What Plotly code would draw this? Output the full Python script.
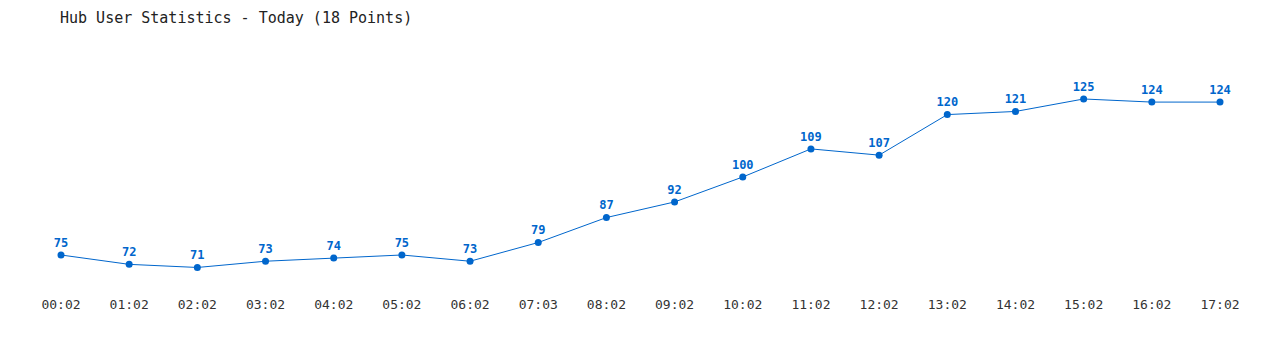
import plotly.graph_objects as go

times = ["00:02", "01:02", "02:02", "03:02", "04:02", "05:02", "06:02", "07:03", "08:02",
         "09:02", "10:02", "11:02", "12:02", "13:02", "14:02", "15:02", "16:02", "17:02"]
users = [75, 72, 71, 73, 74, 75, 73, 79, 87, 92, 100, 109, 107, 120, 121, 125, 124, 124]
title_text = "Hub User Statistics - Today (18 Points)"

idx = list(range(len(times)))
blue = "#0066cc"
font = "DejaVu Sans Mono, Liberation Mono, monospace"

fig = go.Figure(go.Scatter(
    x=idx, y=users, mode="lines+markers+text",
    line=dict(color=blue, width=1),
    marker=dict(color=blue, size=7),
    text=[str(v) for v in users], textposition="top center",
    textfont=dict(family=font, size=12, color=blue, weight="bold"),
    cliponaxis=False, hoverinfo="skip",
))

fig.update_layout(
    width=1280, height=350,
    margin=dict(l=0, r=0, t=40, b=60),
    paper_bgcolor="white", plot_bgcolor="white",
    showlegend=False,
    title=dict(text=title_text, x=60/1280, xanchor="left", y=1 - 18/350, yanchor="middle",
               font=dict(family=font, size=15, color="#222222")),
    xaxis=dict(range=[-0.8947, 17.88], tickvals=idx, ticktext=times, showgrid=False,
               zeroline=False, showline=False, ticks="", ticklabelstandoff=5,
               tickfont=dict(family=font, size=13, color="#333333")),
    yaxis=dict(range=[63.78, 143.9], visible=False, showgrid=False, zeroline=False),
)

fig.write_html("out.html")
